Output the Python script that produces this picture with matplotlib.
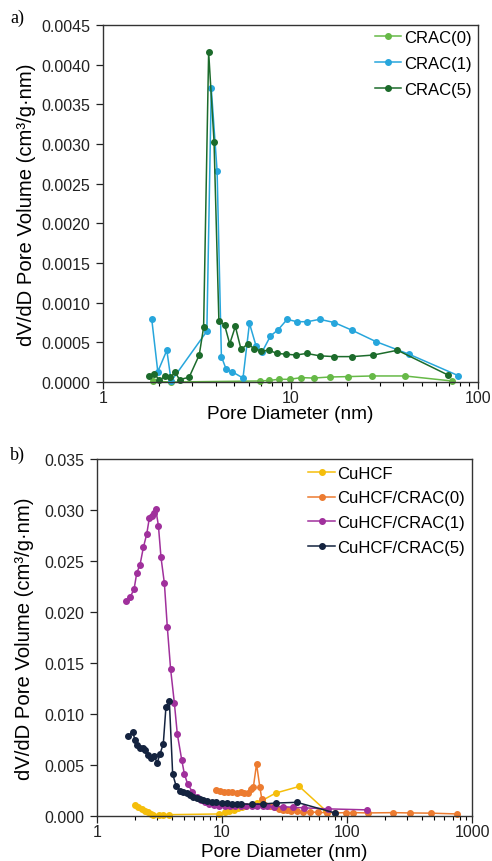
import matplotlib
matplotlib.use("Agg")
import matplotlib.pyplot as plt
from matplotlib.ticker import LogLocator, FormatStrFormatter, FuncFormatter, MultipleLocator, NullFormatter

# ---------------- data: panel a ----------------
crac0_d = [1.84, 2.31, 6.91, 7.72, 8.66, 9.88, 11.4, 13.3, 16.2, 20.2, 27.3, 40.8, 72.3]
crac0_v = [0.00001, 0.00000, 0.000013, 0.00002, 0.000034, 0.000034, 0.000055, 0.00005,
           0.000063, 0.000068, 0.000076, 0.000076, 0.000013]

crac1_d = [1.82, 1.96, 2.19, 2.31, 3.58, 3.78, 4.06, 4.28, 4.54, 4.88, 5.58, 6.04, 6.56,
           7.06, 7.82, 8.6, 9.6, 10.8, 12.3, 14.3, 17.1, 21.4, 28.5, 42.9, 78.5]
crac1_v = [0.00079, 0.00013, 0.00040, 0.00001, 0.00064, 0.00370, 0.00266, 0.00032, 0.00016,
           0.00013, 0.00005, 0.00074, 0.00045, 0.00038, 0.00058, 0.00066, 0.00079, 0.00076,
           0.00076, 0.00079, 0.00075, 0.00065, 0.00051, 0.00035, 0.00008]

crac5_d = [1.75, 1.88, 2.00, 2.15, 2.28, 2.43, 2.56, 2.88, 3.26, 3.44, 3.66, 3.91, 4.15, 4.45,
           4.74, 5.08, 5.45, 5.91, 6.42, 7.0, 7.66, 8.49, 9.52, 10.7, 12.2, 14.3, 17.1, 21.4,
           27.7, 37.2, 68.9]
crac5_v = [0.000076, 0.000106, 0.00002, 0.000076, 0.00006, 0.00012, 0.00003, 0.00006, 0.00034,
           0.00069, 0.00416, 0.00303, 0.00077, 0.00072, 0.00048, 0.0007, 0.00041, 0.00048,
           0.00042, 0.00039, 0.0004, 0.00036, 0.00035, 0.00034, 0.00036, 0.00033, 0.00032,
           0.00032, 0.00034, 0.0004, 0.00009]

# ---------------- data: panel b ----------------
cuhcf_d = [2.01, 2.14, 2.28, 2.42, 2.57, 2.69, 2.82, 3.15, 3.36, 3.79, 9.52, 10.6, 11.4, 12.5,
           13.5, 14.5, 15.7, 17.3, 18.9, 20.8, 26.9, 41.5, 68]
cuhcf_v = [0.00108, 0.00085, 0.00069, 0.00052, 0.00036, 0.0002, 0.0001, 0.00013, 0.00013,
           0.00013, 0.0002, 0.00036, 0.00045, 0.0006, 0.0008, 0.00085, 0.00095, 0.00108,
           0.00127, 0.0015, 0.00225, 0.0029, 0.0005]

cuhcf0_d = [8.95, 9.64, 10.4, 11.2, 12.1, 13.1, 14.1, 15.1, 16.0, 17.0, 17.8, 18.9, 20.1, 20.8,
            22.1, 24.2, 26.5, 28.5, 30.6, 33.0, 35.7, 39.6, 44.7, 50.7, 58.3, 69, 80, 98.5,
            112, 148, 232, 318, 467, 764]
cuhcf0_v = [0.00255, 0.00245, 0.0024, 0.0024, 0.0024, 0.0023, 0.00235, 0.00225, 0.0023, 0.0026,
            0.0028, 0.0051, 0.0028, 0.0017, 0.0011, 0.00095, 0.00085, 0.0007, 0.0006, 0.00055,
            0.0005, 0.00045, 0.0004, 0.0004, 0.00035, 0.00033, 0.0003, 0.00033, 0.00033,
            0.0003, 0.00033, 0.0003, 0.00028, 0.0002]

cuhcf1_d = [1.71, 1.84, 1.98, 2.08, 2.21, 2.35, 2.50, 2.62, 2.74, 2.85, 2.95, 3.10, 3.25, 3.46,
            3.65, 3.88, 4.16, 4.39, 4.76, 5.0, 5.31, 5.79, 6.27, 6.78, 7.32, 7.92, 8.65, 9.5,
            10.5, 11.6, 12.8, 14.1, 15.6, 17.3, 19.2, 21.3, 22.8, 26, 30.6, 37, 45.6, 70, 145]
cuhcf1_v = [0.02105, 0.02144, 0.02225, 0.02382, 0.02464, 0.02634, 0.02765, 0.02918, 0.02944,
            0.0297, 0.0301, 0.02846, 0.02536, 0.02281, 0.01856, 0.01441, 0.01105, 0.00804,
            0.00552, 0.00412, 0.00314, 0.00238, 0.00183, 0.00157, 0.00134, 0.00118, 0.00111,
            0.00101, 0.001, 0.001, 0.001, 0.001, 0.001, 0.001, 0.001, 0.00098, 0.00095,
            0.0009, 0.00092, 0.00085, 0.0008, 0.0007, 0.0006]

cuhcf5_d = [1.78, 1.93, 2.01, 2.10, 2.21, 2.32, 2.42, 2.57, 2.70, 2.88, 3.03, 3.19, 3.39, 3.56,
            3.79, 4.03, 4.29, 4.61, 4.91, 5.28, 5.54, 5.9, 6.27, 6.66, 7.09, 7.63, 8.28, 8.95,
            9.94, 10.9, 11.96, 13.1, 14.3, 17.3, 21.4, 26.9, 39.8, 80]
cuhcf5_v = [0.00781, 0.00826, 0.00748, 0.00696, 0.00664, 0.00664, 0.0065, 0.006, 0.00569,
            0.00585, 0.0052, 0.00608, 0.00706, 0.01066, 0.0113, 0.00412, 0.00297, 0.00248,
            0.0024, 0.00225, 0.00206, 0.0019, 0.0018, 0.00167, 0.00157, 0.0015, 0.0014,
            0.00133, 0.00127, 0.00124, 0.0012, 0.00118, 0.00118, 0.00115, 0.00118, 0.00127,
            0.00134, 0.0003]

labels_a = ["CRAC(0)", "CRAC(1)", "CRAC(5)"]
labels_b = ["CuHCF", "CuHCF/CRAC(0)", "CuHCF/CRAC(1)", "CuHCF/CRAC(5)"]
colors_a = ["#66B947", "#27A6DC", "#1C6B2B"]
colors_b = ["#F5BE0B", "#EC7B30", "#A0309C", "#14233F"]

plt.rcParams['font.family'] = ['Liberation Sans', 'DejaVu Sans']

fig = plt.figure(figsize=(4.92, 8.62), dpi=100)
W, H = 492, 862
ax1 = fig.add_axes([103 / W, 1 - 383 / H, 375 / W, 357 / H])
ax2 = fig.add_axes([97 / W, 1 - 817 / H, 375 / W, 357 / H])

lw = 1.1
ms = 4.0
for d, v, c, lab in zip([crac0_d, crac1_d, crac5_d], [crac0_v, crac1_v, crac5_v], colors_a, labels_a):
    ax1.plot(d, v, '-o', color=c, lw=lw, ms=ms, label=lab, clip_on=False)
for d, v, c, lab in zip([cuhcf_d, cuhcf0_d, cuhcf1_d, cuhcf5_d],
                        [cuhcf_v, cuhcf0_v, cuhcf1_v, cuhcf5_v], colors_b, labels_b):
    ax2.plot(d, v, '-o', color=c, lw=lw, ms=ms, label=lab, clip_on=False)

fmt_int = FuncFormatter(lambda x, p: f"{x:g}")

for ax, xmax, ymax, ystep, yfmt, lpad in [(ax1, 100, 0.0045, 0.0005, '%.4f', 0),
                                           (ax2, 1000, 0.035, 0.005, '%.3f', 3)]:
    ax.set_xscale('log')
    ax.set_xlim(1, xmax)
    ax.set_ylim(0, ymax)
    ax.yaxis.set_major_locator(MultipleLocator(ystep))
    ax.yaxis.set_major_formatter(FormatStrFormatter(yfmt))
    ax.xaxis.set_major_locator(LogLocator(base=10))
    ax.xaxis.set_minor_locator(LogLocator(base=10, subs=range(2, 10)))
    ax.xaxis.set_major_formatter(fmt_int)
    ax.xaxis.set_minor_formatter(NullFormatter())
    ax.tick_params(axis='both', which='major', direction='out', length=5, width=0.9,
                   labelsize=11.5, colors='#222222', pad=4)
    ax.tick_params(axis='x', which='major', pad=0.5)
    ax.tick_params(axis='x', which='minor', direction='out', length=3, width=0.8)
    ax.tick_params(top=False, right=False)
    for s in ax.spines.values():
        s.set_color('#333333')
        s.set_linewidth(1.0)
    ax.set_xlabel('Pore Diameter (nm)', fontsize=13.7, labelpad=lpad)
    ax.set_ylabel('dV/dD Pore Volume (cm³/g·nm)', fontsize=14.6)

ax1.yaxis.set_label_coords(-0.178, 0.5)
ax2.yaxis.set_label_coords(-0.168, 0.5)

ax1.legend(loc='upper right', frameon=False, fontsize=12, handlelength=1.6,
           handletextpad=0.15, labelspacing=0.65, borderaxespad=0.0,
           bbox_to_anchor=(1.0, 1.005))
ax2.legend(loc='upper right', frameon=False, fontsize=12, handlelength=1.6,
           handletextpad=0.15, labelspacing=0.58, borderaxespad=0.0,
           bbox_to_anchor=(1.0, 1.0))

fig.text(10 / W, 1 - 18 / H, 'a)', fontsize=13, family='Liberation Serif', va='center', ha='left')
fig.text(10 / W, 1 - 455 / H, 'b)', fontsize=13, family='Liberation Serif', va='center', ha='left')

fig.savefig('out.png', dpi=100, facecolor='white')
